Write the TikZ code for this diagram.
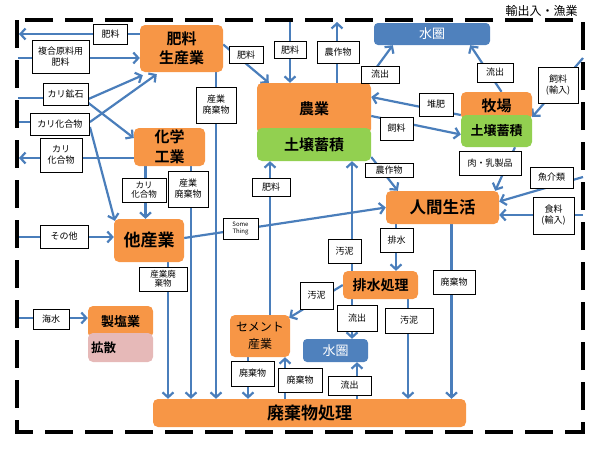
\documentclass[tikz,border=0pt]{standalone}
\usepackage{fontspec}
\setmainfont{Noto Sans CJK JP}[BoldFont={Noto Sans CJK JP Bold}]
\usepackage{tikz}
\usetikzlibrary{arrows.meta,backgrounds}
\definecolor{boxorange}{HTML}{F79646}
\definecolor{soilgreen}{HTML}{92D050}
\definecolor{saltpink}{HTML}{E6B9B8}
\definecolor{waterblue}{HTML}{4F81BD}
\definecolor{flowblue}{HTML}{4A7EBB}

\begin{document}
\begin{tikzpicture}[x=1pt,y=-1pt,->,>={Straight Barb[length=5pt,width=11pt]}]
	\tikzstyle{proc}=[rectangle, rounded corners=5pt, fill=boxorange, text=black, align=center, inner sep=0pt]
	\tikzstyle{soil}=[rectangle, rounded corners=5pt, fill=soilgreen, text=black, inner sep=0pt]
	\tikzstyle{water}=[rectangle, rounded corners=4pt, fill=waterblue, text=white, inner sep=0pt, font=\fontsize{13}{15}\selectfont]
	\tikzstyle{lbl}=[rectangle, draw=black, fill=white, line width=0.9pt, inner sep=1pt, align=center, font=\fontsize{9}{11}\selectfont]
	\tikzstyle{every edge}=[draw=flowblue, line width=2.2pt]
	
	\useasboundingbox (0,0) rectangle (600,450);
	
	% frame
	\draw[-, line width=3.5pt, dash pattern=on 28pt off 12pt] (17,20) rectangle (583,432);
	\node[inner sep=0pt, font=\fontsize{12}{14}\selectfont] (trade) at (541.5,11) {輸出入・漁業};
	
	% main boxes
	\node[proc, minimum width=83, minimum height=47, font=\bfseries\fontsize{15}{19}\selectfont] (fert) at (181.5,48.5) {肥料\\生産業};
	\node[proc, minimum width=71, minimum height=38, font=\bfseries\fontsize{15}{20}\selectfont] (chem) at (169.5,147) {化学\\工業};
	\node[proc, minimum width=70, minimum height=43, font=\bfseries\fontsize{17}{20}\selectfont] (other) at (149,240.5) {他産業};
	\node[proc, minimum width=114, minimum height=51, font=\bfseries\fontsize{15}{18}\selectfont] (agri) at (314,108.5) {農業};
	\node[soil, minimum width=114, minimum height=33, font=\bfseries\fontsize{15}{18}\selectfont] (agriS) at (314,144.5) {土壌蓄積};
	\node[proc, minimum width=71, minimum height=28, font=\bfseries\fontsize{15}{18}\selectfont] (ranch) at (496.5,106) {牧場};
	\node[soil, minimum width=71, minimum height=32, font=\bfseries\fontsize{13}{15}\selectfont] (ranchS) at (496.5,131) {土壌蓄積};
	\node[proc, minimum width=113, minimum height=33, font=\bfseries\fontsize{16.5}{19}\selectfont] (life) at (442.5,207.5) {人間生活};
	\node[proc, minimum width=75, minimum height=28, font=\bfseries\fontsize{14}{16}\selectfont] (drain) at (380.5,285) {排水処理};
	\node[proc, minimum width=60, minimum height=42, font=\fontsize{12}{17}\selectfont] (cement) at (260,336) {セメント\\産業};
	\node[proc, minimum width=313, minimum height=28, font=\bfseries\fontsize{17}{19}\selectfont] (waste) at (309.5,413) {廃棄物処理};
	\node[proc, minimum width=65, minimum height=32, font=\bfseries\fontsize{13}{15}\selectfont] (saltT) at (120.5,322) {製塩業};
	\node[rectangle, rounded corners=5pt, fill=saltpink, minimum width=65, minimum height=29, inner sep=3pt, text width=59pt, align=left, font=\bfseries\fontsize{12.5}{15}\selectfont] (saltB) at (120.5,347.5) {拡散};
	\node[water, minimum width=116, minimum height=22] (hydT) at (432,34) {水圏};
	\node[water, minimum width=65, minimum height=23] (hydM) at (335.5,350.5) {水圏};
	
	% labels
	\node[lbl, minimum width=34, minimum height=20] (fFert) at (110.5,34) {肥料};
	\node[lbl, minimum width=57, minimum height=33] (fMix) at (60.5,56.5) {複合原料用\\肥料};
	\node[lbl, minimum width=45, minimum height=22] (kOre) at (65.5,94) {カリ鉱石};
	\node[lbl, minimum width=59, minimum height=22] (kComp) at (60,124) {カリ化合物};
	\node[lbl, minimum width=42, minimum height=34] (kOut) at (61,155) {カリ\\化合物};
	\node[lbl, minimum width=44, minimum height=24, font=\fontsize{8.5}{9.5}\selectfont] (kChem) at (144,190) {カリ\\化合物};
	\node[lbl, minimum width=40, minimum height=36] (wChem) at (188,189) {産業\\廃棄物};
	\node[lbl, minimum width=40, minimum height=36] (wFert) at (216,105) {産業\\廃棄物};
	\node[lbl, minimum width=34, minimum height=17] (fAgri) at (246,55) {肥料};
	\node[lbl, minimum width=32, minimum height=17] (fTop) at (290,50) {肥料};
	\node[lbl, minimum width=42, minimum height=22] (cTop) at (338,52) {農作物};
	\node[lbl, minimum width=38, minimum height=17] (oAgri) at (380,74.5) {流出};
	\node[lbl, minimum width=36, minimum height=19] (oRanch) at (495,72.5) {流出};
	\node[lbl, minimum width=40, minimum height=36] (feedIn) at (558,85) {飼料\\(輸入)};
	\node[lbl, minimum width=34, minimum height=23] (manure) at (436,104.5) {堆肥};
	\node[lbl, minimum width=33, minimum height=23] (feed) at (396.5,128.5) {飼料};
	\node[lbl, minimum width=62, minimum height=24] (meat) at (490,163) {肉・乳製品};
	\node[lbl, minimum width=43, minimum height=21] (fish) at (551.5,177.5) {魚介類};
	\node[lbl, minimum width=41, minimum height=37] (foodIn) at (553.5,215.5) {食料\\(輸入)};
	\node[lbl, minimum width=48, minimum height=14] (crop) at (389,170) {農作物};
	\node[lbl, minimum width=38, minimum height=18] (fCem) at (271,187) {肥料};
	\node[lbl, minimum width=35, minimum height=21, font=\fontsize{6}{7}\selectfont] (some) at (240.5,228.5) {Some\\Thing};
	\node[lbl, minimum width=33, minimum height=24] (sUp) at (344.5,251) {汚泥};
	\node[lbl, minimum width=33, minimum height=24] (drainL) at (396.5,240) {排水};
	\node[lbl, minimum width=33, minimum height=27] (sCem) at (316.5,295.5) {汚泥};
	\node[lbl, minimum width=40, minimum height=26] (oDrain) at (357,318) {流出};
	\node[lbl, minimum width=48, minimum height=25] (sDown) at (409,320.5) {汚泥};
	\node[lbl, minimum width=42, minimum height=24] (wLife) at (454,282) {廃棄物};
	\node[lbl, minimum width=48, minimum height=24, font=\fontsize{8.5}{9.5}\selectfont] (wOther) at (163,279) {産業廃\\棄物};
	\node[lbl, minimum width=36, minimum height=20] (sea) at (51,319) {海水};
	\node[lbl, minimum width=48, minimum height=23] (etc) at (64,236.5) {その他};
	\node[lbl, minimum width=43, minimum height=25] (wCem) at (252.5,373.5) {廃棄物};
	\node[lbl, minimum width=44, minimum height=24] (wBack) at (300,380) {廃棄物};
	\node[lbl, minimum width=43, minimum height=19] (oWaste) at (349.5,385.5) {流出};
	
	% frame points and rails
	\coordinate (bA) at (19,34);
	\coordinate (bB) at (18,58);
	\coordinate (bC) at (18,98);
	\coordinate (bD) at (18,122);
	\coordinate (bE) at (19,158);
	\coordinate (bF) at (18,237);
	\coordinate (bG) at (18,318);
	\coordinate (bH) at (290,20);
	\coordinate (bI) at (337,22);
	\coordinate (bJ) at (583,58);
	\coordinate (bK) at (583,177);
	\coordinate (bL) at (583,215);
	\coordinate (xA) at (145.5,0);
	\coordinate (xB) at (191,0);
	\coordinate (xC) at (216,0);
	\coordinate (xD) at (168,0);
	\coordinate (xE) at (352,0);
	\coordinate (xF) at (396,0);
	\coordinate (xG) at (451.5,0);
	\coordinate (xH) at (408,0);
	\coordinate (xI) at (357,0);
	\coordinate (xJ) at (248,0);
	\coordinate (xK) at (285,0);
	\coordinate (xL) at (270,0);
	
	\begin{scope}[on background layer]
	\path (fert.west |- bA) edge (bA);
	\path (bB) edge (fert.west |- bB);
	\path (bC) edge[-] (kOre.west |- bC);
	\path ([yshift=-5pt]kOre.east) edge ([xshift=3pt,yshift=-3pt]fert.south west);
	\path ([yshift=-9pt]kOre.east) edge ([yshift=9pt]chem.west);
	\path (bD) edge[-] (kComp.west |- bD);
	\path ([yshift=2pt]kComp.east) edge ([xshift=17pt,yshift=-2pt]fert.south west);
	\path ([yshift=-3pt]kComp.east) edge ([xshift=1pt,yshift=-2pt]other.north west);
	\path (chem.west |- bE) edge (bE);
	\path (chem.south -| xA) edge (other.north -| xA);
	\path (chem.south -| xB) edge (waste.north -| xB);
	\path (fert.south -| xC) edge (waste.north -| xC);
	\path (other.south -| xD) edge (waste.north -| xD);
	\path ([yshift=2.5pt]other.east) edge (life.west);
	\path (bF) edge (other.west |- bF);
	\path (bG) edge (saltT.west |- bG);
	\path ([yshift=4pt]fert.east) edge ([xshift=12pt]agri.north west);
	\path (bH) edge (agri.north -| bH);
	\path (agri.north -| bI) edge (bI);
	\path ([xshift=-6pt]agri.north east) edge ([xshift=19pt]hydT.south west);
	\path ([xshift=5pt]ranch.north) edge ([xshift=-20pt]hydT.south east);
	\path ([yshift=-9pt]ranch.west) edge ([yshift=11.5pt]agri.east);
	\path ([yshift=-7.5pt]agri.east) edge ([yshift=-3.5pt]ranchS.west);
	\path (bJ) edge ([yshift=14pt]ranchS.east);
	\path ([xshift=18.5pt]ranchS.south) edge ([xshift=-4pt]life.north east);
	\path (bK) edge ([yshift=6pt]life.east);
	\path (bL) edge (life.east |- bL);
	\path ([yshift=-12.5pt]agriS.east) edge ([xshift=12pt]life.north west);
	\path (drain.north -| xE) edge (agriS.south -| xE);
	\path (life.south -| xF) edge (drain.north -| xF);
	\path (life.south -| xG) edge (waste.north -| xG);
	\path (drain.south -| xH) edge (waste.north -| xH);
	\path (drain.south -| xE) edge (hydM.north -| xE);
	\path (waste.north -| xI) edge (hydM.south -| xI);
	\path (drain.west) edge ([xshift=-1pt,yshift=-3pt]cement.north east);
	\path (cement.south -| xJ) edge (waste.north -| xJ);
	\path (waste.north -| xK) edge (cement.south -| xK);
	\path (cement.north -| xL) edge (agriS.south -| xL);
	\end{scope}
	
\end{tikzpicture}
\end{document}
